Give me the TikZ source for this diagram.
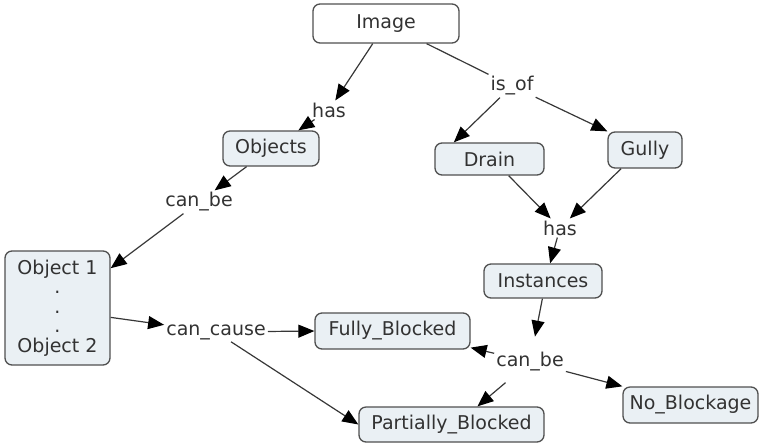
\documentclass[tikz,border=0pt]{standalone}
\usepackage{fontspec}
\setmainfont{DejaVu Sans}
\usetikzlibrary{arrows.meta}
\definecolor{boxfill}{RGB}{234,240,244}
\definecolor{boxdraw}{RGB}{80,80,80}
\definecolor{txt}{RGB}{50,50,50}
\definecolor{edgec}{RGB}{55,55,55}
\tikzset{
  concept/.style={draw=boxdraw, line width=1.3pt, rounded corners=7pt, fill=boxfill,
    text=txt, font=\fontsize{19}{19.5}\selectfont, inner sep=0pt, align=center},
  lbl/.style={text=txt, font=\fontsize{19}{20}\selectfont, inner sep=2pt},
  conn/.style={draw=edgec, line width=1.2pt, -{Triangle[length=16pt,width=13pt,color=black]}},
  plainconn/.style={draw=edgec, line width=1.2pt}
}
\begin{document}
\begin{tikzpicture}[x=1pt,y=-1pt]
\useasboundingbox (0,0) rectangle (767,445);
% concepts
\node[concept, fill=white, minimum width=146pt, minimum height=39pt] (img) at (386,23.5) {Image};
\node[concept, minimum width=96pt, minimum height=35pt] (obj) at (271,148.5) {Objects};
\node[concept, minimum width=109pt, minimum height=32pt] (drain) at (489.5,159) {Drain};
\node[concept, minimum width=74pt, minimum height=36pt] (gully) at (645,150) {Gully};
\node[concept, minimum width=118pt, minimum height=34pt] (inst) at (543,281) {Instances};
\node[concept, minimum width=105pt, minimum height=114pt] (objs) at (57.5,308) {Object 1\\.\\.\\.\\Object 2};
\node[concept, minimum width=155pt, minimum height=36pt] (fully) at (392.5,331) {Fully\_Blocked};
\node[concept, minimum width=185pt, minimum height=35pt] (part) at (451.5,424.5) {Partially\_Blocked};
\node[concept, minimum width=135pt, minimum height=36pt] (nob) at (690.5,405) {No\_Blockage};
% linking phrases
\node[lbl] (has1) at (329,110) {has};
\node[lbl] (canbe1) at (199,202) {can\_be};
\node[lbl] (isof) at (512,86) {is\_of};
\node[lbl] (has2) at (560,228) {has};
\node[lbl] (canbe2) at (530,362) {can\_be};
\node[lbl] (cancause) at (216,332) {can\_cause};
% connectors
\draw[conn] (img) -- (has1);
\draw[conn] (has1) -- (obj);
\draw[conn] (obj) -- (canbe1);
\draw[conn] (canbe1) -- (objs);
\draw[plainconn] (img) -- (isof);
\draw[conn] (isof) -- (drain.155);
\draw[conn] (isof) -- (gully.north west);
\draw[conn] (drain.-41) -- (has2);
\draw[conn] (gully.218) -- (has2);
\draw[conn] (has2) -- (inst.68);
\draw[conn, shorten >=14pt] (inst.-92) -- (canbe2);
\draw[conn] (canbe2) -- (fully.-12);
\draw[conn, shorten <=14pt] (canbe2) -- (part.35);
\draw[conn] (canbe2) -- (nob.north west);
\draw[conn] (objs.-10) -- (cancause);
\draw[conn] (cancause) -- (fully.west);
\draw[conn] (cancause) -- (part.west);
\end{tikzpicture}
\end{document}
